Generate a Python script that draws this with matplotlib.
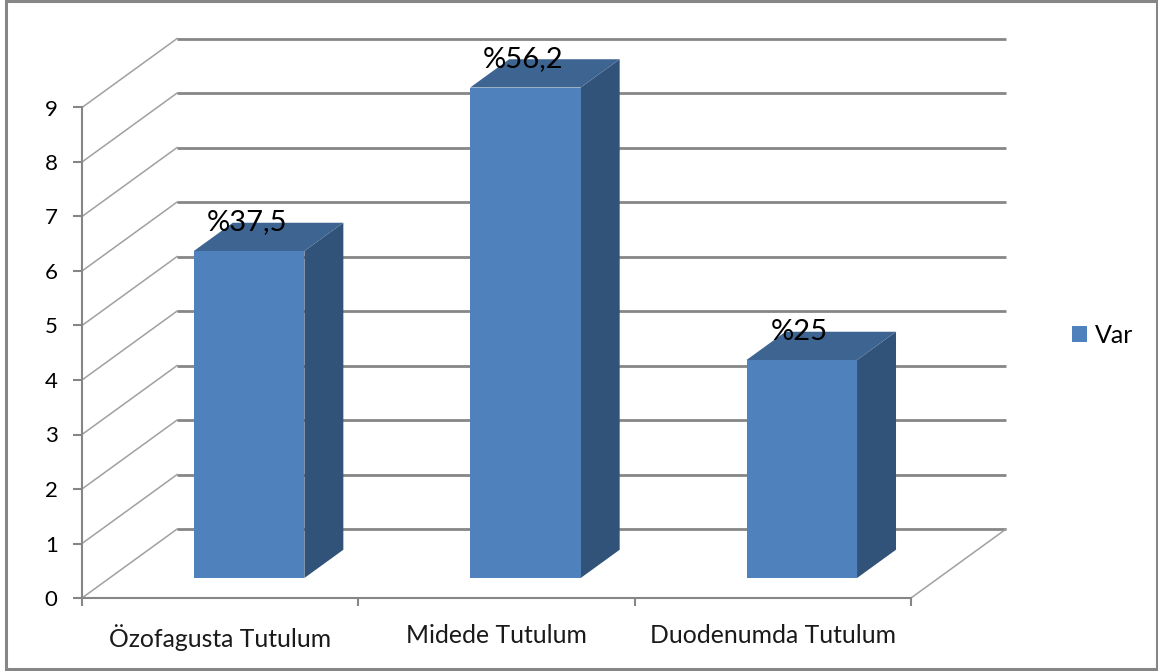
import numpy as np
import matplotlib
matplotlib.use("Agg")
import matplotlib.pyplot as plt
from matplotlib.patches import Rectangle

# =========================
# DATA
# =========================
categories = ["Özofagusta Tutulum", "Midede Tutulum", "Duodenumda Tutulum"]
counts = [6, 9, 4]
pct_labels = ["%37,5", "%56,2", "%25"]
y_ticks = [0, 1, 2, 3, 4, 5, 6, 7, 8, 9]
series_name = "Var"

# =========================
# SETTINGS
# =========================
W, H = 1158, 671
GREY = "#868686"
WALL_GREY = "#a0a0a0"
FRONT = "#4f81bd"
TOP = "#3e6491"
SIDE = "#325379"

# oblique projection: depth 0..1 shifts points right and up (in data units)
DEPTH_X = 0.344
DEPTH_Y = 1.265
BAR_WIDTH = 0.4
BAR_SHIFT = 0.005
BAR_D0, BAR_D1 = 0.29, 0.70


def proj(x, y, d):
    return x + d * DEPTH_X, y + d * DEPTH_Y


plt.rcParams["font.family"] = ["Lato", "DejaVu Sans"]
fig = plt.figure(figsize=(W / 100, H / 100), dpi=100)

# outer frame of the chart
fig.add_artist(Rectangle((5.5 / W, 2 / H), 1151 / W, 668 / H, transform=fig.transFigure,
                         fill=False, edgecolor=GREY, linewidth=2.2))

# axes: x 0..3 is 82..911 px, y 0..9 is 598..107 px
left, right, bottom, top = 82, 1008, 598, 36
ax = fig.add_axes([left / W, (H - bottom) / H, (right - left) / W, (bottom - top) / H])
ax.set_xlim(0, (right - left) / 276.33)
ax.set_ylim(0, (bottom - top) / 54.5)
ax.patch.set_alpha(0)

# =========================
# walls and floor
# =========================
x_end = len(categories)
for v in y_ticks:
    x0, y0 = proj(0, v, 0)
    x1, y1 = proj(0, v, 1)
    x2, y2 = proj(x_end, v, 1)
    ax.plot([x0, x1], [y0, y1], color=WALL_GREY, linewidth=1.1, zorder=1, clip_on=False)
    ax.plot([x1, x2], [y1, y2], color=GREY, linewidth=2.0, zorder=1, clip_on=False,
            solid_capstyle="butt")

x0, y0 = proj(x_end, 0, 0)
x1, y1 = proj(x_end, 0, 1)
ax.plot([x0, x1], [y0, y1], color=WALL_GREY, linewidth=1.1, zorder=1)

# =========================
# bars
# =========================
centers = np.arange(len(categories)) + 0.5
for c, v, lab in zip(centers, counts, pct_labels):
    a, b = c - BAR_WIDTH / 2 + BAR_SHIFT, c + BAR_WIDTH / 2 + BAR_SHIFT

    fl = proj(a, 0, BAR_D0)
    fr = proj(b, 0, BAR_D0)
    tl = proj(a, v, BAR_D0)
    tr = proj(b, v, BAR_D0)
    br = proj(b, 0, BAR_D1)
    btr = proj(b, v, BAR_D1)
    btl = proj(a, v, BAR_D1)

    ax.fill(*zip(fr, br, btr, tr), color=SIDE, linewidth=0, zorder=3)
    ax.fill(*zip(tl, tr, btr, btl), color=TOP, linewidth=0, zorder=3)
    ax.fill(*zip(fl, fr, tr, tl), color=FRONT, linewidth=0, zorder=4)

    # percent label sits just above the front top edge
    ax.annotate(lab, xy=((tl[0] + tr[0]) / 2, tl[1]), xytext=(-1.5, 20.5), textcoords="offset points",
                ha="center", va="center", fontsize=21, color="black", zorder=5)

# =========================
# axes lines and ticks
# =========================
for s in ["top", "right"]:
    ax.spines[s].set_visible(False)
ax.spines["left"].set_bounds(0, 9)
ax.spines["bottom"].set_bounds(0, x_end)
for s in ["left", "bottom"]:
    ax.spines[s].set_color(GREY)
    ax.spines[s].set_linewidth(1.5)

ax.set_yticks(y_ticks)
ax.set_xticks(np.arange(x_end + 1))
ax.set_xticklabels([])
ax.set_xticks(centers, labels=categories, minor=True)
ax.tick_params(axis="y", length=6.5, width=1.5, color=GREY, pad=11, labelsize=16, labelcolor="black")
ax.tick_params(axis="x", which="major", length=6, width=1.5, color=GREY)
ax.tick_params(axis="x", which="minor", length=0, pad=18.5, labelsize=17.8, labelcolor="#1a1a1a")

# =========================
# legend
# =========================
handle = Rectangle((0, 0), 1, 1, color=FRONT, linewidth=0)
fig.legend([handle], [series_name], loc="center left", bbox_to_anchor=(1072 / W, (H - 335.5) / H),
           frameon=False, fontsize=18, handlelength=0.6, handleheight=0.6, handletextpad=0.3,
           borderpad=0, borderaxespad=0)

fig.savefig("out.png", dpi=100)
